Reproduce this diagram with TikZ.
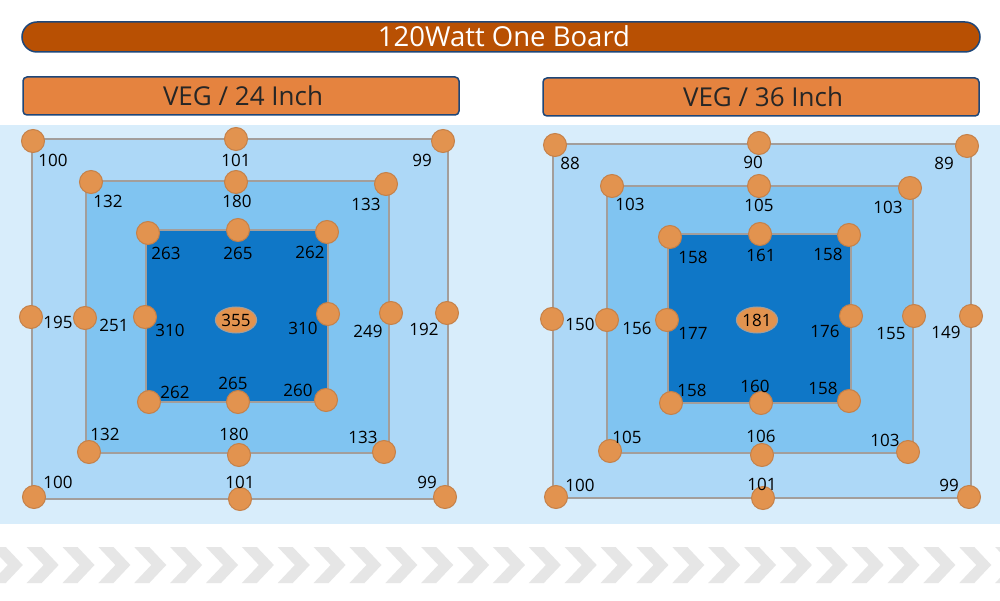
\documentclass[tikz,border=0pt]{standalone}
\usepackage{fontspec}
\setmainfont{Open Sans}
\usetikzlibrary{shapes.geometric}

\definecolor{titlefill}{HTML}{B85003}
\definecolor{headfill}{HTML}{E5833F}
\definecolor{headline}{HTML}{1E4678}
\definecolor{panel}{HTML}{D8EDFB}
\definecolor{outerblue}{HTML}{ADD8F7}
\definecolor{midblue}{HTML}{80C4F1}
\definecolor{innerblue}{HTML}{0F77C7}
\definecolor{ringline}{HTML}{A39E9B}
\definecolor{spotfill}{HTML}{E2934F}
\definecolor{spotline}{HTML}{C58149}
\definecolor{chev}{HTML}{E6E6E6}

\tikzset{
	ring/.style={draw=ringline, line width=2pt},
	spot/.style={circle, fill=spotfill, draw=spotline, line width=1pt, minimum size=23pt, inner sep=0pt},
	hub/.style={ellipse, fill=spotfill, draw=ringline, line width=1pt, minimum width=34pt, minimum height=26pt, inner sep=0pt, font=\fontsize{17}{18}\selectfont},
	num/.style={inner sep=0pt, text=black, font=\fontsize{17}{18}\selectfont},
	headbox/.style={draw=headline, line width=1.5pt, fill=headfill, rounded corners=4pt},
	headtext/.style={anchor=base, text=black!85, font=\fontsize{26}{30}\selectfont},
}

\begin{document}
\begin{tikzpicture}[x=1pt,y=-1pt]
	\useasboundingbox (0,0) rectangle (1000,601);
	\fill[white] (0,0) rectangle (1000,601);

	% title and headers
	\draw[draw=headline, line width=1.5pt, fill=titlefill, rounded corners=15pt] (22,22) rectangle (980,52);
	\node[anchor=base, text=white, font=\fontsize{27.5}{30}\selectfont] (title) at (504,47) {120Watt One Board};
	\draw[headbox] (23,77) rectangle (459,115);
	\node[headtext] (headl) at (243,106) {VEG / 24 Inch};
	\draw[headbox] (543,78) rectangle (979,116);
	\node[headtext] (headr) at (763,107) {VEG / 36 Inch};

	\fill[panel] (0,125) rectangle (1000,524);

	% 24 inch
	\draw[ring, fill=outerblue] (32,139) rectangle (448,499);
	\draw[ring, fill=midblue] (86,181) rectangle (389,453);
	\draw[ring, fill=innerblue] (146,230) rectangle (328,402);
	\foreach \p [count=\i] in {(33,141),(236,139),(443,141),(31,317),(447,313),(34,497),(240,499),(445,497),
		(91,182),(236,182),(386,184),(85,318),(391,313),(89,452),(239,455),(384,452),
		(148,233),(238,230),(327,232),(145,317),(328,314),(149,402),(238,402),(326,400)}
		\node[spot] (sl\i) at \p {};
	\node[hub] (hubl) at (236,320) {355};
	\foreach \p/\t [count=\i] in {(53,160)/100,(236,160)/101,(422,160)/99,(58,322)/195,(424,329)/192,(58,482)/100,(240,482)/101,(427,482)/99,
		(108,201)/132,(237,201)/180,(366,204)/133,(114,325)/251,(368,331)/249,(105,434)/132,(234,434)/180,(363,437)/133,
		(166,253)/263,(238,253)/265,(310,252)/262,(170,330)/310,(303,328)/310,(175,392)/262,(233,383)/265,(298,390)/260}
		\node[num] (nl\i) at \p {\t};

	% 36 inch
	\draw[ring, fill=outerblue] (553,144) rectangle (971,498);
	\draw[ring, fill=midblue] (607,186) rectangle (913,453);
	\draw[ring, fill=innerblue] (668,234) rectangle (851,403);
	\foreach \p [count=\i] in {(555,145),(759,143),(967,146),(552,319),(971,316),(556,497),(763,498),(969,497),
		(612,186),(759,186),(910,188),(607,320),(914,316),(610,451),(762,455),(908,452),
		(670,237),(760,234),(849,235),(667,320),(851,316),(671,403),(761,403),(849,401)}
		\node[spot] (sr\i) at \p {};
	\node[hub] (hubr) at (757,320) {181};
	\foreach \p/\t [count=\i] in {(570,163)/88,(753,162)/90,(944,163)/89,(580,324)/150,(946,332)/149,(580,485)/100,(762,484)/101,(949,485)/99,
		(630,204)/103,(759,205)/105,(888,207)/103,(637,328)/156,(891,334)/155,(627,437)/105,(761,436)/106,(885,440)/103,
		(693,257)/158,(761,255)/161,(828,254)/158,(693,333)/177,(825,331)/176,(692,390)/158,(755,386)/160,(823,388)/158}
		\node[num] (nr\i) at \p {\t};

	% chevrons
	\foreach \i in {0,...,28}
		\fill[chev] ({-9.2+35.87*\i},547) -- ++(15,0) -- ++(17,18) -- ++(-17,18) -- ++(-15,0) -- ++(17,-18) -- cycle;
\end{tikzpicture}
\end{document}
